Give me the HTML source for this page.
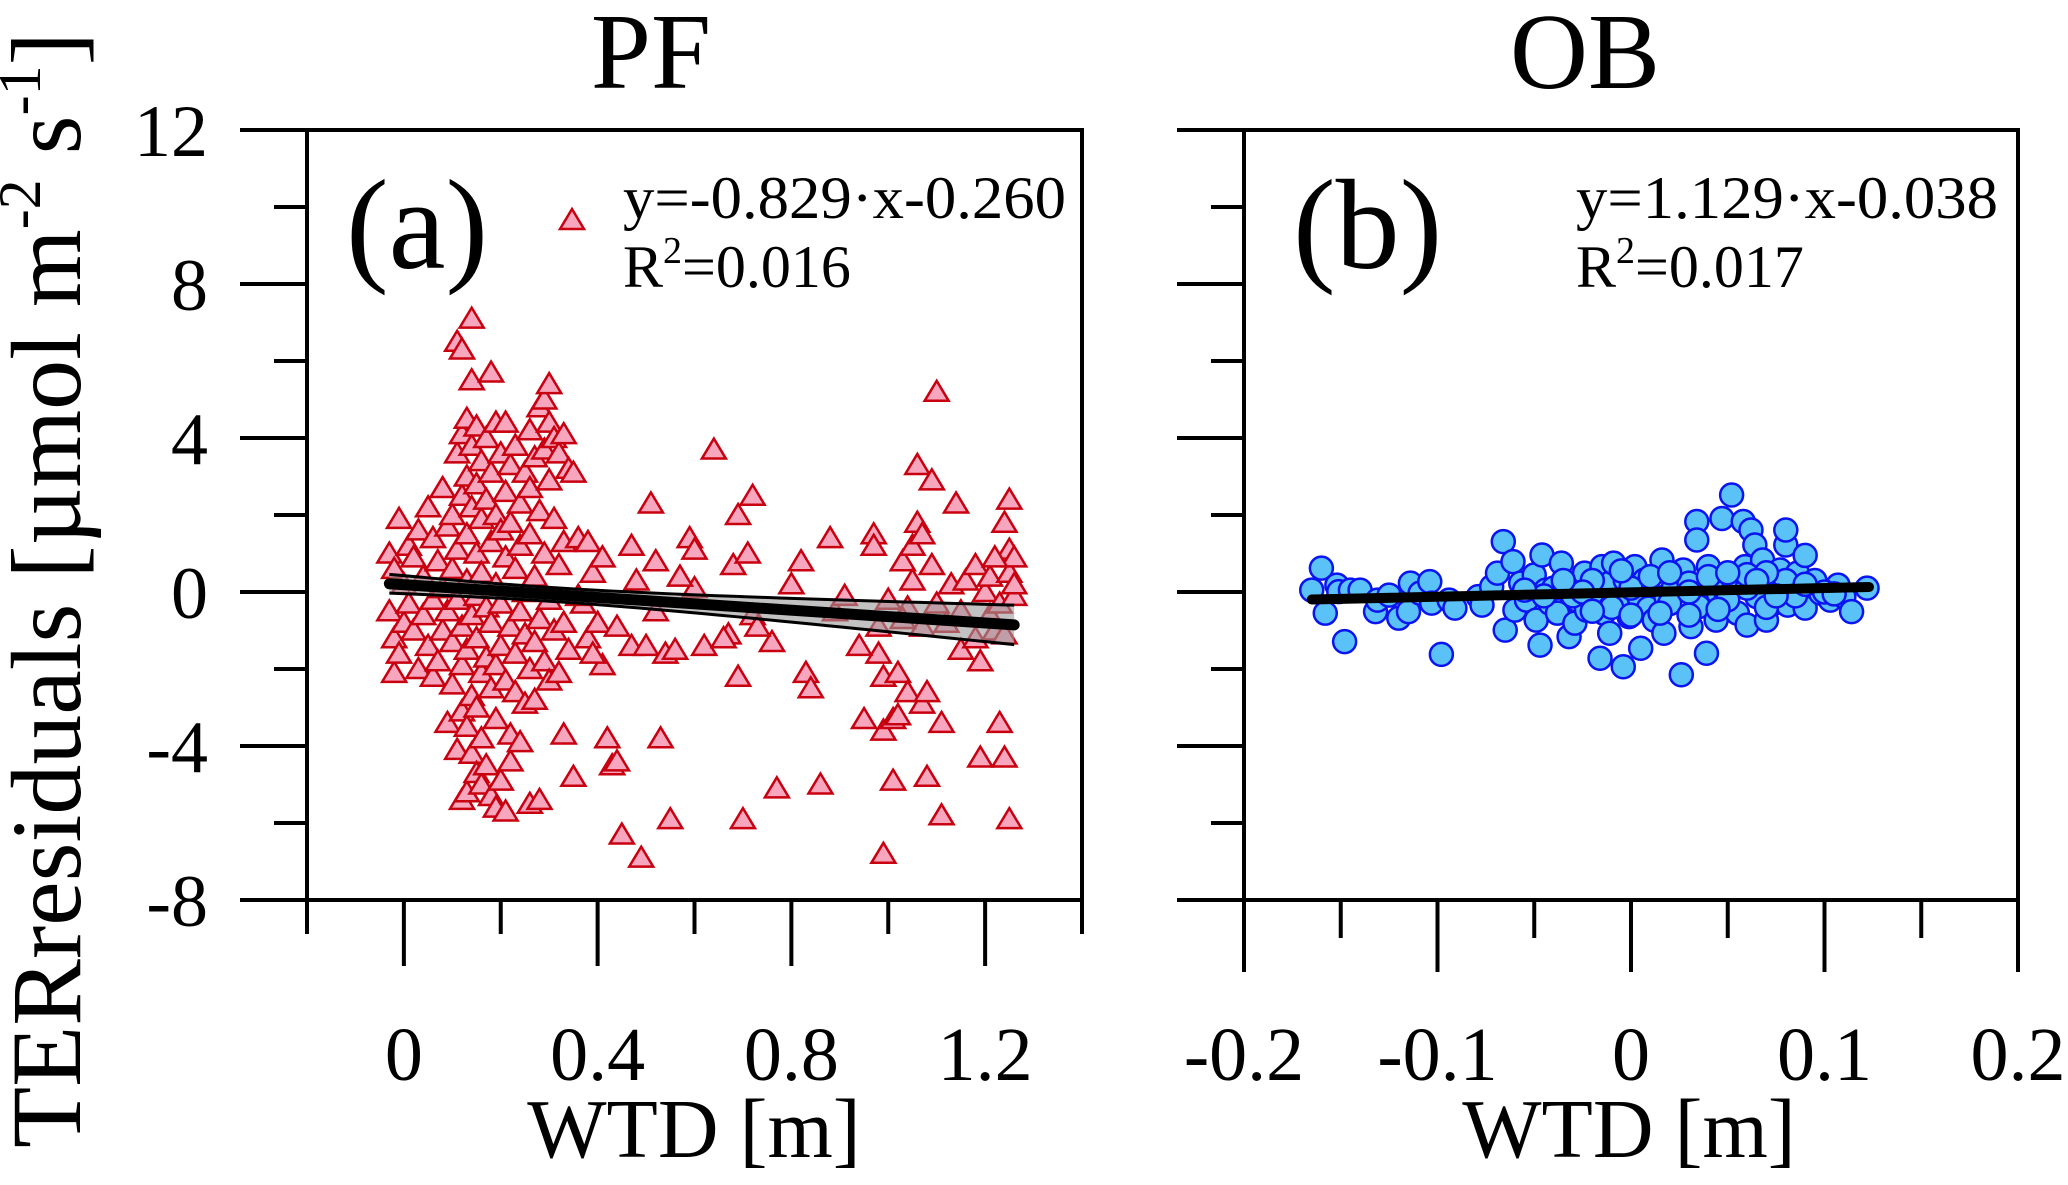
<!DOCTYPE html>
<html><head><meta charset="utf-8"><style>
html,body{margin:0;padding:0;background:#fff;}
svg{display:block;font-family:"Liberation Serif","Times New Roman",serif;}
</style></head><body>
<svg id="chart" width="2068" height="1185" viewBox="0 0 2068 1185" xmlns="http://www.w3.org/2000/svg"></svg>
<script>
// ---------- data ----------
const pfX = [-0.03,-0.03,-0.02,-0.02,-0.02,-0.01,-0.01,0.0,0.0,0.01,0.01,0.02,0.02,0.03,0.03,0.04,0.04,0.05,0.05,0.06,0.06,0.06,0.07,0.07,0.08,0.08,0.08,0.09,0.09,0.09,0.10,0.10,0.10,0.10,0.11,0.11,0.11,0.11,0.11,0.12,0.12,0.12,0.12,0.12,0.12,0.12,0.13,0.13,0.13,0.13,0.13,0.13,0.13,0.14,0.14,0.14,0.14,0.14,0.14,0.14,0.15,0.15,0.15,0.15,0.15,0.15,0.15,0.16,0.16,0.16,0.16,0.16,0.16,0.17,0.17,0.17,0.17,0.17,0.18,0.18,0.18,0.18,0.18,0.18,0.19,0.19,0.19,0.19,0.19,0.19,0.20,0.20,0.20,0.20,0.20,0.21,0.21,0.21,0.21,0.21,0.22,0.22,0.22,0.22,0.22,0.23,0.23,0.23,0.23,0.24,0.24,0.24,0.24,0.25,0.25,0.25,0.25,0.26,0.26,0.26,0.26,0.26,0.27,0.27,0.27,0.27,0.28,0.28,0.28,0.28,0.29,0.29,0.29,0.29,0.30,0.30,0.30,0.30,0.30,0.31,0.31,0.31,0.32,0.32,0.32,0.33,0.33,0.33,0.33,0.34,0.34,0.35,0.35,0.36,0.37,0.38,0.38,0.39,0.40,0.41,0.41,0.42,0.43,0.44,0.45,0.47,0.47,0.49,0.50,0.51,0.52,0.52,0.53,0.54,0.55,0.56,0.59,0.60,0.60,0.62,0.64,0.67,0.68,0.69,0.69,0.70,0.71,0.72,0.72,0.76,0.77,0.80,0.82,0.83,0.84,0.86,0.88,0.89,0.91,0.95,0.97,0.97,0.98,0.98,0.99,0.99,0.99,1.00,1.01,1.01,1.02,1.02,1.03,1.04,1.04,1.05,1.05,1.06,1.06,1.07,1.07,1.07,1.08,1.08,1.09,1.09,1.10,1.10,1.11,1.11,1.12,1.13,1.14,1.15,1.16,1.18,1.18,1.19,1.19,1.20,1.21,1.21,1.22,1.23,1.23,1.24,1.24,1.25,1.25,1.25,1.26,1.26,1.26,1.25,1.24,1.22,1.15,1.03,0.94,0.73,0.66,0.57,0.48,0.44,0.36,0.39];
const pfY = [1.0,-0.5,0.6,-1.2,-2.1,1.9,-1.6,0.2,-0.8,1.2,-0.3,0.9,-1.0,1.6,-2.0,0.4,-0.6,2.2,-1.4,1.4,-0.2,-2.2,0.8,-1.8,2.7,0.1,-1.0,1.7,-0.5,-3.4,2.0,0.6,-1.3,-2.4,3.6,1.1,-0.2,-4.1,6.5,6.3,4.1,2.5,-0.9,-1.9,-3.1,-5.4,4.5,3.0,1.5,0.3,-1.5,-3.5,-5.2,7.1,5.5,3.8,2.2,-0.6,-2.7,-4.2,4.3,2.8,1.0,-0.1,-1.2,-3.0,-4.7,3.4,1.9,0.5,-2.1,-3.8,-5.0,4.0,2.4,-0.4,-1.7,-4.5,5.7,3.1,1.3,-0.8,-2.5,-5.3,4.4,2.0,0.2,-1.9,-3.3,-5.6,3.6,1.6,-0.3,-1.4,-4.9,4.4,2.6,0.9,-2.3,-5.7,3.3,1.8,-0.9,-3.7,-4.4,3.8,0.6,-1.6,-2.6,2.3,1.2,-0.5,-3.9,3.1,0.0,-1.1,-2.9,4.2,2.7,1.5,-2.0,-5.5,3.5,0.4,-1.3,-2.8,4.8,2.1,-0.7,-5.4,5.0,3.7,1.0,-1.8,5.4,4.4,2.9,-0.2,-2.3,4.0,1.9,-1.0,3.6,0.7,-2.1,4.1,1.3,-0.8,-3.7,3.2,-1.5,3.1,-4.8,1.4,-0.3,1.3,-1.2,0.5,-0.8,0.9,-1.9,-3.8,-4.5,-4.4,-6.3,1.2,-1.4,-6.9,-1.4,2.3,0.8,-0.5,-3.8,-1.6,-5.9,-1.5,1.4,1.1,0.1,-1.4,3.7,-1.1,0.7,2.0,-2.2,-5.9,1.0,2.5,-0.6,-1.3,-5.1,0.2,0.8,-2.1,-2.5,-5.0,1.4,-0.5,-0.1,-3.3,1.5,1.2,-0.9,-1.6,-2.2,-3.6,-6.8,-0.2,-3.3,-4.9,-3.2,-2.1,0.8,-0.4,-2.6,0.3,1.2,3.3,1.8,1.5,-0.9,-2.9,-2.6,-4.8,0.7,2.9,-0.3,5.2,-3.4,-5.8,-0.8,0.2,2.3,-1.5,0.3,0.7,-1.2,-1.8,-4.3,0.0,-0.6,0.4,-1.0,-3.4,-0.3,-4.3,1.8,2.4,1.1,0.5,-0.1,0.9,0.2,-5.9,-1.1,0.9,-0.5,-0.7,-1.4,-0.9,-1.2,0.4,0.3,-0.9,-0.1,-1.6];
const obX = [-0.165,-0.160,-0.158,-0.152,-0.151,-0.148,-0.145,-0.140,-0.132,-0.131,-0.125,-0.120,-0.114,-0.115,-0.109,-0.104,-0.103,-0.098,-0.094,-0.091,-0.079,-0.077,-0.072,-0.069,-0.066,-0.065,-0.061,-0.060,-0.057,-0.054,-0.050,-0.049,-0.047,-0.046,-0.044,-0.042,-0.038,-0.036,-0.033,-0.032,-0.029,-0.028,-0.024,-0.023,-0.020,-0.016,-0.015,-0.014,-0.011,-0.011,-0.009,-0.007,-0.004,-0.003,-0.001,0.002,0.004,0.005,0.007,0.009,0.012,0.016,0.017,0.018,0.022,0.026,0.027,0.030,0.031,0.034,0.034,0.035,0.039,0.040,0.044,0.045,0.047,0.049,0.052,0.053,0.055,0.058,0.059,0.060,0.062,0.064,0.065,0.068,0.070,0.072,0.074,0.077,0.080,0.080,0.081,0.086,0.088,0.090,0.090,0.095,0.098,0.103,0.107,0.110,0.114,0.122,-0.04,-0.03,-0.02,-0.01,0.0,0.01,0.02,0.03,0.04,0.05,0.06,0.07,0.08,0.085,0.095,0.1,0.105,0.06,0.05,0.02,-0.005,-0.025,-0.045,-0.055,0.015,0.045,0.07,0.075,0.09,0.03,0.0,-0.02,-0.035,0.065];
const obY = [0.05,0.62,-0.55,0.18,0.01,-1.29,0.05,0.05,-0.51,-0.21,-0.08,-0.68,0.23,-0.51,-0.03,0.27,-0.29,-1.62,-0.21,-0.42,-0.12,-0.34,0.14,0.49,1.31,-0.99,0.79,-0.47,0.23,-0.21,0.44,-0.73,-1.38,0.96,0.05,-0.29,-0.55,0.75,0.14,-1.16,-0.81,-0.21,0.49,-0.47,-0.03,-1.72,0.66,-0.55,0.23,-1.07,0.75,-0.21,-1.94,0.31,-0.64,0.66,-0.12,-1.46,0.31,-0.42,-0.73,0.83,-1.07,-0.12,0.14,-2.15,0.57,0.23,-0.90,1.83,1.35,-0.38,-1.59,0.66,-0.73,-0.03,1.91,-0.21,2.52,0.31,-0.55,1.83,0.66,-0.86,1.61,1.22,-0.12,0.83,-0.73,0.23,-0.29,0.57,1.22,1.61,-0.34,0.49,0.14,0.95,-0.42,0.14,-0.03,-0.21,0.18,-0.12,-0.51,0.10,0.1,-0.1,0.3,-0.4,0.1,0.4,-0.3,0.0,0.4,-0.2,0.1,-0.4,0.3,-0.1,0.3,0.0,-0.05,0.45,0.5,0.5,0.55,0.0,-0.1,0.05,-0.55,-0.45,0.5,-0.1,0.2,-0.6,-0.6,-0.5,0.3,0.3];
const yTicks = [12,8,4,0,-4,-8];
const yTickLabels = ["12","8","4","0","-4","-8"];
const pfXTicks = [0,0.4,0.8,1.2];
const pfXTickLabels = ["0","0.4","0.8","1.2"];
const obXTicks = [-0.2,-0.1,0,0.1,0.2];
const obXTickLabels = ["-0.2","-0.1","0","0.1","0.2"];
const pfFit = [-0.829, 0.19];   // slope, visual intercept
const obFit = [1.129, -0.01];
const pfRange = [-0.03, 1.26];
const obRange = [-0.165, 0.123];

// ---------- helpers ----------
const NS = "http://www.w3.org/2000/svg";
const svg = document.getElementById("chart");
function mk(tag, attrs, parent){
  const e = document.createElementNS(NS, tag);
  for (const k in attrs) e.setAttribute(k, attrs[k]);
  (parent||svg).appendChild(e);
  return e;
}
const top0 = 130, bot0 = 900;
function yS(v){ return top0 + (12 - v) / 20 * (bot0 - top0); }
function pfXS(v){ return 307 + (v + 0.2) / 1.6 * (1082 - 307); }
function obXS(v){ return 1244 + (v + 0.2) / 0.4 * (2018 - 1244); }

function frame(name, xl, xr){
  const g = mk("g", {});
  
  
  const r = mk("rect", {x:xl, y:top0, width:xr-xl, height:bot0-top0, fill:"none", stroke:"#000", "stroke-width":4}, g);
  
  
  for (let v = -8; v <= 12; v += 2){
    const major = (v % 4 === 0);
    const t = mk("line", {x1: xl - (major?67:33), x2: xl, y1: yS(v), y2: yS(v), stroke:"#000", "stroke-width":4}, g);
    
    
  }
  return g;
}

// ---------- panel a ----------
const ga = frame("panel-a-axes", 307, 1082);
for (let k = 0; k < 9; k++){
  const v = -0.2 + k * 0.2;
  const major = (k % 2 === 1);
  const t = mk("line", {x1:pfXS(v), x2:pfXS(v), y1:bot0, y2: bot0 + (major?66:34), stroke:"#000", "stroke-width":4}, ga);
  
  
}
yTicks.forEach((v,i)=>{
  const t = mk("text", {x:208, y:yS(v)+26, "text-anchor":"end", "font-size":74}, ga);
  t.textContent = yTickLabels[i];
  
  
});
pfXTicks.forEach((v,i)=>{
  const t = mk("text", {x:pfXS(v), y:1080, "text-anchor":"middle", "font-size":76}, ga);
  t.textContent = pfXTickLabels[i];
  
  
});

const ptsA = mk("g", {});


pfX.forEach((x,i)=>{
  const cx = pfXS(x), cy = yS(pfY[i]);
  const p = mk("polygon", {points:`${cx-12},${cy+9} ${cx+12},${cy+9} ${cx},${cy-11}`, fill:"#f7a6bd", stroke:"#c8000f", "stroke-width":2.5}, ptsA);
  
  
});

function band(x){ return Math.sqrt(0.18*0.18 + 0.25*(x-0.3)*(x-0.3)); }
const N = 40; let up = [], lo = [];
for (let k=0;k<=N;k++){
  const x = pfRange[0] + (pfRange[1]-pfRange[0])*k/N;
  const y = pfFit[0]*x + pfFit[1];
  up.push([pfXS(x), yS(y+band(x))]);
  lo.push([pfXS(x), yS(y-band(x))]);
}
const bandPoly = mk("polygon", {points: up.concat(lo.slice().reverse()).map(p=>p.join(",")).join(" "), fill:"#9a9a9a", "fill-opacity":0.6, stroke:"none"});


const bu = mk("polyline", {points: up.map(p=>p.join(",")).join(" "), fill:"none", stroke:"#000", "stroke-width":3});


const bl = mk("polyline", {points: lo.map(p=>p.join(",")).join(" "), fill:"none", stroke:"#000", "stroke-width":3});


const la = mk("line", {x1:pfXS(pfRange[0]), y1:yS(pfFit[0]*pfRange[0]+pfFit[1]), x2:pfXS(pfRange[1]), y2:yS(pfFit[0]*pfRange[1]+pfFit[1]), stroke:"#000", "stroke-width":11, "stroke-linecap":"round"});



// ---------- panel b ----------
const gb = frame("panel-b-axes", 1244, 2018);
for (let k = 0; k < 9; k++){
  const v = -0.2 + k * 0.05;
  const major = (k % 2 === 0);
  const t = mk("line", {x1:obXS(v), x2:obXS(v), y1:bot0, y2: bot0 + (major?72:38), stroke:"#000", "stroke-width":4}, gb);
  
  
}
obXTicks.forEach((v,i)=>{
  const t = mk("text", {x:obXS(v), y:1080, "text-anchor":"middle", "font-size":76}, gb);
  t.textContent = obXTickLabels[i];
  
  
});
const ptsB = mk("g", {});


obX.forEach((x,i)=>{
  const c = mk("circle", {cx:obXS(x), cy:yS(obY[i]), r:11.5, fill:"#5bc2f7", stroke:"#0a14f0", "stroke-width":2.5}, ptsB);
  
  
});
const lb = mk("line", {x1:obXS(obRange[0]), y1:yS(obFit[0]*obRange[0]+obFit[1]), x2:obXS(obRange[1]), y2:yS(obFit[0]*obRange[1]+obFit[1]), stroke:"#000", "stroke-width":10, "stroke-linecap":"round"});


</script>
<svg style="position:absolute;left:0;top:0" width="2068" height="1185" viewBox="0 0 2068 1185" xmlns="http://www.w3.org/2000/svg" font-family="Liberation Serif, Times New Roman, serif">
  <text x="651" y="88" text-anchor="middle" font-size="108">PF</text>
  <text x="1585" y="88" text-anchor="middle" font-size="108">OB</text>
  <text x="346" y="268" font-size="128">(a)</text>
  <text x="1293" y="268" font-size="128">(b)</text>
  <polygon points="560,229 584,229 572,209" fill="#f7a6bd" stroke="#c8000f" stroke-width="2.5"/>
  <text x="623" y="218" font-size="60" textLength="443" lengthAdjust="spacingAndGlyphs">y=-0.829·x-0.260</text>
  <text x="623" y="287" font-size="60">R<tspan font-size="38" dy="-24">2</tspan><tspan dy="24">=0.016</tspan></text>
  <text x="1576" y="218" font-size="60" textLength="422" lengthAdjust="spacingAndGlyphs">y=1.129·x-0.038</text>
  <text x="1576" y="287" font-size="60">R<tspan font-size="38" dy="-24">2</tspan><tspan dy="24">=0.017</tspan></text>
  <text x="694" y="1157" text-anchor="middle" font-size="84">WTD [m]</text>
  <text x="1629" y="1157" text-anchor="middle" font-size="84">WTD [m]</text>
  <text transform="translate(80,590) rotate(-90)" text-anchor="middle" font-size="100">TERresiduals [µmol m<tspan font-size="60" dy="-40">-2</tspan><tspan dy="40"> s</tspan><tspan font-size="60" dy="-40">-1</tspan><tspan dy="40">]</tspan></text>
</svg>
</body></html>
